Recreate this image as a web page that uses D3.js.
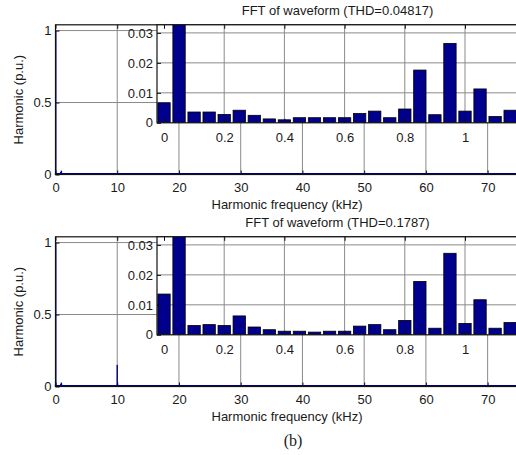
<!DOCTYPE html>
<html><head><meta charset="utf-8">
<script src="https://cdn.jsdelivr.net/npm/d3@7"></script>
<style>
html,body{margin:0;padding:0;background:#fff;}
svg{display:block;}
text{fill:#1a1a1a;}
</style></head>
<body>
<script>
// ---- data ----
const harmonicFreqKHz = [0,0.05,0.10,0.15,0.20,0.25,0.30,0.35,0.40,0.45,0.50,0.55,0.60,0.65,0.70,0.75,0.80,0.85,0.90,0.95,1.00,1.05,1.10,1.15];
const magnitudeA = [0.0067,1.0,0.0036,0.0036,0.0028,0.0042,0.0025,0.0013,0.0010,0.0017,0.0017,0.0017,0.0017,0.0031,0.0039,0.0017,0.0046,0.0176,0.0027,0.0265,0.0039,0.0113,0.0021,0.0042];
const magnitudeB = [0.0136,1.0,0.0031,0.0034,0.0031,0.0063,0.0026,0.0017,0.0012,0.0012,0.0009,0.0012,0.0012,0.0029,0.0034,0.0017,0.0048,0.0178,0.0022,0.0272,0.0038,0.0117,0.0022,0.0041];
const switchFreqKHzA = [];
const switchMagA = [];
const switchFreqKHzB = [9.95,10.0,10.05];
const switchMagB = [0.012,0.15,0.012];
const titles = ["FFT of waveform (THD=0.04817)","FFT of waveform (THD=0.1787)"];
const mainXTicks = [0,10,20,30,40,50,60,70];
const mainYTicks = [0,0.5,1];
const insetXTicks = [0,0.2,0.4,0.6,0.8,1];
const insetYTicks = [0,0.01,0.02,0.03];
const xLabel = "Harmonic frequency (kHz)";
const yLabel = "Harmonic (p.u.)";
const caption = "(b)";

// ---- drawing ----
const W = 516, H = 455;
const SANS = "'Liberation Sans', Arial, Helvetica, sans-serif";
const svg = d3.select("body").append("svg").attr("width",W).attr("height",H)
  .style("font-family",SANS);
const BAR = "#00008c", GRID = "#8a8a8a", FS = 13;

const defs = svg.append("defs");

function styleAxis(a){
  a.select(".domain").remove();
  a.selectAll("line").attr("stroke","#111");
  a.selectAll("text").attr("font-size",FS).style("font-family",SANS).attr("fill","#1a1a1a");
}

function panel(dy, mags, swF, swM, title, idx){
  const g = svg.append("g").attr("transform",`translate(0,${dy})`);
  // main axes
  const x = d3.scaleLinear().domain([0,75]).range([55.5,518.5]);
  const y = d3.scaleLinear().domain([0,1.04]).range([174.5,24.8]);
  const [x0,x1] = x.range(), [y0,y1] = y.range();
  // gridlines
  g.selectAll(".mgx").data(mainXTicks.filter(d=>d>0)).join("line")
    .attr("x1",d=>x(d)).attr("x2",d=>x(d)).attr("y1",y0).attr("y2",y1)
    .attr("stroke",GRID).attr("stroke-width",1);
  g.selectAll(".mgy").data(mainYTicks.filter(d=>d>0)).join("line")
    .attr("x1",x0).attr("x2",x1).attr("y1",d=>y(d)).attr("y2",d=>y(d))
    .attr("stroke",GRID).attr("stroke-width",1);
  // main data (all harmonics as thin bars)
  const allF = harmonicFreqKHz.concat(swF), allM = mags.concat(swM);
  g.append("line").attr("x1",x(0)).attr("x2",x1).attr("y1",y(0)-0.5).attr("y2",y(0)-0.5)
    .attr("stroke",BAR).attr("stroke-width",2);
  g.selectAll(".mb").data(allF.map((f,i)=>({f,m:allM[i]}))).join("rect")
    .attr("x",d=>x(d.f)-0.7).attr("width",1.4)
    .attr("y",d=>y(d.m)).attr("height",d=>y(0)-y(d.m))
    .attr("fill",BAR);
  // main axes box
  g.append("rect").attr("x",x0).attr("y",y1).attr("width",x1-x0).attr("height",y0-y1)
    .attr("fill","none").attr("stroke","#111").attr("stroke-width",1.2);
  // main axes ticks & labels
  const ax = g.append("g").attr("transform",`translate(0,${y0})`)
    .call(d3.axisBottom(x).tickValues(mainXTicks).tickSize(-4).tickPadding(8.5).tickFormat(d3.format("d")));
  const axTop = g.append("g").attr("transform",`translate(0,${y1})`)
    .call(d3.axisTop(x).tickValues(mainXTicks).tickSize(-4).tickFormat(""));
  const ay = g.append("g").attr("transform",`translate(${x0},0)`)
    .call(d3.axisLeft(y).tickValues(mainYTicks).tickSize(-4).tickPadding(4).tickFormat(d=>d===0.5?"0.5":d3.format("d")(d)));
  [ax,axTop,ay].forEach(styleAxis);
  // axis labels
  g.append("text").attr("x",(x0+x1)/2).attr("y",208.5).attr("text-anchor","middle").attr("font-size",FS).text(xLabel);
  g.append("text").attr("transform",`translate(22.5,${(y0+y1)/2}) rotate(-90)`).attr("text-anchor","middle").attr("font-size",FS).text(yLabel);

  // inset axes
  const xi = d3.scaleLinear().domain([0,1]).range([164,465]);
  const yi = d3.scaleLinear().domain([0,0.0327]).range([122.8,24.8]);
  const ix0 = 157, ix1 = 518, iy0 = yi.range()[0], iy1 = yi.range()[1];
  g.append("rect").attr("x",ix0).attr("y",iy1).attr("width",ix1-ix0).attr("height",iy0-iy1).attr("fill","#fff");
  g.selectAll(".igx").data(insetXTicks.filter(d=>d>0)).join("line")
    .attr("x1",d=>xi(d)).attr("x2",d=>xi(d)).attr("y1",iy0).attr("y2",iy1)
    .attr("stroke",GRID).attr("stroke-width",1);
  g.selectAll(".igy").data(insetYTicks.filter(d=>d>0)).join("line")
    .attr("x1",ix0).attr("x2",ix1).attr("y1",d=>yi(d)).attr("y2",d=>yi(d))
    .attr("stroke",GRID).attr("stroke-width",1);
  const cid = "clipI"+idx;
  defs.append("clipPath").attr("id",cid).append("rect")
    .attr("x",ix0).attr("y",iy1).attr("width",ix1-ix0).attr("height",iy0-iy1);
  const bw = (xi(0.05)-xi(0))*0.82;
  g.append("g").attr("clip-path",`url(#${cid})`)
    .selectAll("rect").data(harmonicFreqKHz.map((f,i)=>({f,m:mags[i]}))).join("rect")
    .attr("x",d=>xi(d.f)-bw/2).attr("width",bw)
    .attr("y",d=>yi(d.m)).attr("height",d=>iy0-yi(d.m))
    .attr("fill",BAR).attr("stroke","#000").attr("stroke-width",0.8);
  g.append("rect").attr("x",ix0).attr("y",iy1).attr("width",ix1-ix0).attr("height",iy0-iy1)
    .attr("fill","none").attr("stroke","#111").attr("stroke-width",1.2);
  const bx = g.append("g").attr("transform",`translate(0,${iy0})`)
    .call(d3.axisBottom(xi).tickValues(insetXTicks).tickSize(-4).tickPadding(9.5).tickFormat(d=>d===0||d===1?d3.format("d")(d):d3.format(".1f")(d)));
  const bxTop = g.append("g").attr("transform",`translate(0,${iy1})`)
    .call(d3.axisTop(xi).tickValues(insetXTicks).tickSize(-4).tickFormat(""));
  const by = g.append("g").attr("transform",`translate(${ix0},0)`)
    .call(d3.axisLeft(yi).tickValues(insetYTicks).tickSize(-4).tickPadding(4).tickFormat(d=>d===0?"0":d3.format(".2f")(d)));
  [bx,bxTop,by].forEach(styleAxis);
  g.append("text").attr("x",(ix0+ix1)/2).attr("y",14.5).attr("text-anchor","middle").attr("font-size",FS).text(title);
}

panel(0, magnitudeA, switchFreqKHzA, switchMagA, titles[0], 0);
panel(212, magnitudeB, switchFreqKHzB, switchMagB, titles[1], 1);

svg.append("text").attr("x",293).attr("y",446).attr("text-anchor","middle")
  .style("font-family","'Liberation Serif', 'Times New Roman', serif").attr("font-size",16).text(caption);
</script>
</body></html>
